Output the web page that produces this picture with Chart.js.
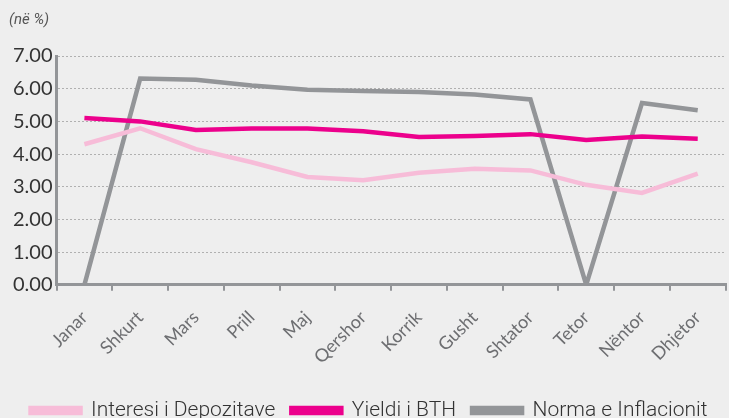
<!DOCTYPE html>
<html lang="sq">
  <head>
    <meta charset="UTF-8" />
    <title>Normat e interesit</title>
    <style>
      html, body { margin: 0; padding: 0; background: #eeeeee; overflow: hidden; }
      .chart-box { width: 729px; height: 418px; position: relative; }
    </style>
  </head>
  <body>
    <div class="chart-box">
      <canvas id="lineChart"></canvas>
    </div>

    <script src="https://cdn.jsdelivr.net/npm/chart.js"></script>
    <script>
      // Muajt
      const muajt = ['Janar', 'Shkurt', 'Mars', 'Prill', 'Maj', 'Qershor', 'Korrik', 'Gusht', 'Shtator', 'Tetor', 'Nëntor', 'Dhjetor'];

      // Seritë (në %)
      const interesiDepozitave = [4.30, 4.79, 4.15, 3.75, 3.30, 3.20, 3.43, 3.55, 3.50, 3.06, 2.81, 3.40];
      const yieldiBTH = [5.10, 5.00, 4.74, 4.78, 4.78, 4.70, 4.52, 4.55, 4.61, 4.43, 4.54, 4.47];
      const normaInflacionit = [0.00, 6.31, 6.27, 6.10, 5.97, 5.93, 5.90, 5.82, 5.67, 0.00, 5.56, 5.34];

      const yTicks = [0, 1, 2, 3, 4, 5, 6, 7];

      const gri = '#939598';

      function seri(label, data, color) {
        return {
          label: label,
          data: data,
          borderColor: color,
          backgroundColor: color,
          borderWidth: 4.5,
          pointRadius: 0,
          tension: 0,
          fill: false
        };
      }

      const ctx = document.getElementById('lineChart').getContext('2d');
      new Chart(ctx, {
        type: 'line',
        data: {
          labels: muajt,
          datasets: [
            seri('Interesi i Depozitave', interesiDepozitave, '#f7bcd8'),
            seri('Yieldi i BTH', yieldiBTH, '#ec008c'),
            seri('Norma e Inflacionit', normaInflacionit, gri)
          ]
        },
        options: {
          responsive: true,
          maintainAspectRatio: false,
          animation: false,
          layout: { padding: { left: 9, right: 0, top: 0, bottom: -13 } },
          plugins: {
            title: {
              display: true,
              text: '(në %)',
              align: 'start',
              color: '#555',
              font: { family: 'Roboto', size: 15, style: 'italic', weight: 'normal' },
              padding: { top: 11, bottom: 27 }
            },
            legend: {
              position: 'bottom',
              labels: {
                boxWidth: 50,
                boxHeight: 5,
                color: '#333',
                padding: 16,
                font: { family: 'Roboto', size: 21, weight: 300 }
              }
            },
            tooltip: { enabled: false }
          },
          scales: {
            x: {
              offset: true,
              grid: {
                offset: true,
                drawOnChartArea: false,
                drawTicks: true,
                tickLength: 6,
                color: gri,
                lineWidth: 2
              },
              border: { color: gri, width: 3 },
              ticks: {
                minRotation: 45,
                maxRotation: 45,
                color: '#6d6e71',
                padding: 16,
                font: { family: 'Lato', size: 18 }
              }
            },
            y: {
              min: 0,
              max: 7,
              afterBuildTicks: (axis) => { axis.ticks = yTicks.map(v => ({ value: v })); },
              grid: {
                color: '#b0b0b0',
                lineWidth: 1,
                drawTicks: false
              },
              border: { color: gri, width: 3, dash: [2, 2] },
              ticks: {
                color: '#333',
                padding: 4,
                font: { family: 'Lato', size: 20 },
                callback: (v) => Number(v).toFixed(2)
              }
            }
          }
        }
      });
    </script>
  </body>
</html>
